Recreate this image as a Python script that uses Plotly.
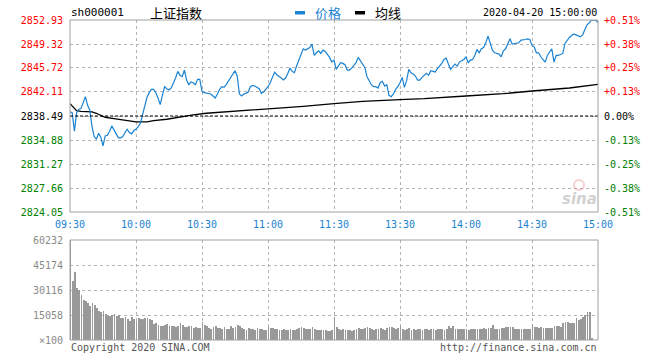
import plotly.graph_objects as go

# ---------------- data ----------------
prev_close = 2838.49
time_labels = ["09:30", "10:00", "10:30", "11:00", "11:30", "13:30", "14:00", "14:30", "15:00"]
time_ticks = [0, 30, 60, 90, 120, 150, 180, 210, 240]

price_ticks = [2852.93, 2849.32, 2845.72, 2842.11, 2838.49, 2834.88, 2831.27, 2827.66, 2824.05]
pct_labels = ["+0.51%", "+0.38%", "+0.25%", "+0.13%", "0.00%", "-0.13%", "-0.25%", "-0.38%", "-0.51%"]

vol_ticks = [0, 15058, 30116, 45174, 60232]
vol_tick_labels = ["×100", "15058", "30116", "45174", "60232"]

# one price per minute, 09:30 .. 11:30 / 13:00 .. 15:00 (241 points)
price = [
    2839.1, 2839.0, 2836.2, 2839.0, 2839.5, 2839.6, 2840.5, 2841.4, 2840.1, 2839.4,
    2836.9, 2835.4, 2835.0, 2835.9, 2835.3, 2834.0, 2835.5, 2835.6, 2836.2, 2837.0,
    2836.4, 2835.8, 2835.2, 2835.2, 2835.4, 2836.0, 2836.5, 2836.0, 2835.8, 2836.3,
    2836.5, 2836.9, 2837.4, 2838.7, 2839.9, 2841.3, 2842.0, 2842.5, 2842.5, 2842.0,
    2841.2, 2840.2, 2841.6, 2842.9, 2842.6, 2842.4, 2842.7, 2843.4, 2844.2, 2845.2,
    2844.6, 2844.4, 2845.4, 2843.9, 2843.2, 2843.6, 2843.5, 2843.2, 2844.0, 2844.0,
    2842.2, 2842.0, 2841.9, 2841.9, 2841.8, 2841.5, 2841.2, 2841.8, 2842.5, 2842.9,
    2842.8, 2843.2, 2843.7, 2844.2, 2844.8, 2845.3, 2844.5, 2841.8, 2841.5, 2841.8,
    2841.9, 2842.1, 2842.9, 2843.1, 2843.0, 2842.8, 2842.6, 2841.9, 2842.1, 2842.5,
    2842.9, 2843.5, 2844.3, 2845.1, 2844.7, 2844.5, 2844.2, 2843.9, 2844.2, 2844.9,
    2845.7, 2845.2, 2845.0, 2846.0, 2846.8, 2847.7, 2848.6, 2848.4, 2848.6, 2848.8,
    2849.3, 2847.6, 2848.0, 2848.3, 2847.9, 2848.4, 2848.2, 2847.8, 2847.3, 2846.6,
    2846.9, 2845.5, 2846.1, 2846.5, 2846.4, 2846.2, 2845.4, 2845.4, 2845.7, 2846.2,
    2846.5, 2847.3, 2846.8, 2846.3, 2845.8, 2844.4, 2843.7, 2843.2, 2842.9, 2842.9,
    2842.7, 2843.5, 2843.7, 2843.0, 2843.2, 2841.6, 2841.4, 2841.8, 2842.5, 2842.9,
    2843.5, 2844.3, 2842.8, 2843.8, 2845.5, 2845.0, 2844.8, 2844.5, 2843.9, 2843.9,
    2844.3, 2844.6, 2844.9, 2844.6, 2845.3, 2845.2, 2845.1, 2845.6, 2846.0, 2846.4,
    2847.0, 2847.2, 2846.3, 2845.5, 2845.9, 2846.3, 2846.0, 2846.6, 2846.8, 2847.0,
    2847.4, 2846.5, 2846.9, 2847.0, 2847.6, 2848.5, 2848.0, 2848.6, 2848.8, 2849.5,
    2850.5, 2849.6, 2848.4, 2848.0, 2847.9, 2847.8, 2847.4, 2848.3, 2848.6, 2849.4,
    2850.1, 2849.3, 2849.4, 2849.5, 2849.5, 2849.9, 2849.9, 2850.0, 2850.1, 2850.0,
    2849.1, 2848.9, 2848.0, 2848.0, 2847.4, 2847.0, 2846.6, 2847.6, 2848.1, 2848.6,
    2846.6, 2847.6, 2847.6, 2847.7, 2847.9, 2849.4, 2849.9, 2850.3, 2850.6, 2850.8,
    2850.7, 2850.5, 2850.4, 2850.7, 2851.5, 2852.2, 2852.5, 2852.9, 2852.93, 2852.9,
    2852.55,
]

# average price line (minute index, value)
avg_minutes = [0, 1, 2, 3, 5, 10, 12, 14, 16, 20, 24, 27, 30, 35, 38, 44, 50, 56, 62, 71,
               80, 90, 99, 106, 120, 133, 150, 161, 180, 197, 210, 227, 240]
avg_price = [2840.35, 2840.0, 2839.5, 2839.3, 2839.2, 2839.1, 2838.9, 2838.55, 2838.3, 2838.1,
             2837.9, 2837.65, 2837.6, 2837.6, 2837.8, 2838.0, 2838.35, 2838.65, 2838.9, 2839.1,
             2839.34, 2839.54, 2839.7, 2839.95, 2840.35, 2840.7, 2840.95, 2841.1, 2841.5,
             2841.85, 2842.25, 2842.7, 2843.25]

# volume per minute (x100 shares)
volume = [
    60232, 35250, 40680, 31220, 30210, 27190, 24170, 23770, 22150, 20540,
    22150, 21150, 19130, 17720, 17120, 17720, 15710, 14500, 14500, 15110,
    15710, 14500, 15110, 13090, 13090, 13700, 12490, 11680, 13700, 12490,
    11680, 13090, 12490, 12490, 13090, 13090, 12490, 12080, 9670, 10470,
    9060, 8660, 8660, 9260, 9670, 8660, 8460, 8460, 8060, 8460,
    10470, 9060, 7650, 8060, 8460, 8460, 7450, 7650, 7050, 7050,
    11080, 9060, 8460, 7050, 6650, 8060, 8460, 7500, 7200, 6800,
    7600, 6400, 6900, 8200, 7400, 7800, 9000, 8400, 7000, 6600,
    6200, 7000, 6800, 6400, 6000, 7200, 6600, 6900, 6300, 6100,
    7800, 7000, 7400, 6800, 6500, 6200, 6000, 6600, 6300, 5900,
    6700, 6200, 6000, 6500, 7100, 7600, 7300, 6800, 6400, 6600,
    7900, 6900, 6300, 6000, 6200, 5800, 6000, 5700, 5600, 5900,
    14000, 7800, 6600, 6200, 6400, 5800, 6000, 6300, 5700, 6100,
    6500, 7200, 6900, 6400, 7300, 7800, 7100, 6600, 6200, 6800,
    6400, 7000, 6600, 6300, 7400, 8000, 7600, 7000, 6700, 7200,
    8460, 6440, 6040, 6640, 7050, 6240, 6440, 6040, 6840, 6440,
    6240, 6640, 6440, 6040, 6640, 6440, 6240, 6640, 6440, 6640,
    6240, 6640, 8460, 7050, 8460, 6440, 6640, 6640, 6440, 6640,
    6640, 6240, 6640, 6640, 6840, 6640, 6840, 6640, 7050, 6840,
    7050, 7450, 9060, 6440, 6840, 6640, 7050, 7250, 7650, 8060,
    8060, 7650, 6640, 6440, 6640, 6640, 6440, 6640, 6840, 6640,
    9470, 8060, 7650, 7450, 8060, 7450, 7050, 7450, 7450, 7050,
    8460, 8460, 8460, 8060, 10470, 10670, 10670, 10470, 10070, 10070,
    13090, 12080, 12490, 13700, 15110, 16720, 16720, 1000, 0, 0,
    0,
]
minutes = list(range(len(price)))

# ---------------- styles ----------------
W, H = 660, 360
MONO = "DejaVu Sans Mono, Liberation Mono, monospace"
CJK = "Noto Sans CJK SC, sans-serif"
BLUE = "#1a82d2"
RED = "#ff0000"
GREEN = "#008000"
GRID = "#b4b4b4"
BORDER = "#a0a0a0"


def px(x):
    return x / W


def py(y):
    return 1 - y / H


X0, X1 = 70, 598
P_TOP, P_BOT = 20, 212
V_TOP, V_BOT = 240, 340


def colored(label, value):
    if abs(value - prev_close) < 1e-6:
        c = "#000000"
    elif value > prev_close:
        c = RED
    else:
        c = GREEN
    return f'<span style="color:{c}">{label}</span>'


left_text = [colored(f"{v:.2f}", v) for v in price_ticks]
right_text = [colored(t, v) for t, v in zip(pct_labels, price_ticks)]

fig = go.Figure()

fig.add_trace(go.Bar(
    x=minutes, y=volume, xaxis="x2", yaxis="y2",
    marker=dict(color="#999999", line=dict(width=0)),
    width=0.45, offset=0, showlegend=False, hoverinfo="skip",
))
fig.add_trace(go.Scatter(
    x=avg_minutes, y=avg_price, mode="lines",
    line=dict(color="#000000", width=1.3), showlegend=False, hoverinfo="skip",
))
fig.add_trace(go.Scatter(
    x=minutes, y=price, mode="lines",
    line=dict(color=BLUE, width=1.2), showlegend=False, hoverinfo="skip",
))
# invisible trace for right axis
fig.add_trace(go.Scatter(
    x=[0], y=[prev_close], yaxis="y3", mode="markers",
    marker=dict(opacity=0), showlegend=False, hoverinfo="skip",
))

xdom = [px(X0), px(X1)]
common_x = dict(range=[0, 240], domain=xdom, showline=False, zeroline=False, automargin=False,
                showgrid=True, gridcolor=GRID, griddash="dot", gridwidth=1,
                tickvals=time_ticks)

fig.update_layout(
    template="none",
    width=W, height=H,
    margin=dict(l=0, r=0, t=0, b=0, pad=0),
    paper_bgcolor="white", plot_bgcolor="white",
    bargap=0,
    hovermode=False,
    font=dict(family=MONO, size=10, color="#000"),
    xaxis=dict(**common_x, anchor="y", ticktext=time_labels,
               tickfont=dict(family=MONO, size=10, color=BLUE),
               ticks="outside", ticklen=3, tickcolor="rgba(0,0,0,0)"),
    yaxis=dict(domain=[py(P_BOT), py(P_TOP)], range=[price_ticks[-1], price_ticks[0]],
               tickvals=price_ticks, ticktext=left_text, automargin=False,
               tickfont=dict(family=MONO, size=10),
               ticks="outside", ticklen=4, tickcolor="rgba(0,0,0,0)",
               showgrid=True, gridcolor=GRID, griddash="dot", zeroline=False, showline=False),
    yaxis3=dict(overlaying="y", side="right", range=[price_ticks[-1], price_ticks[0]],
                tickvals=price_ticks, ticktext=right_text, automargin=False,
                tickfont=dict(family=MONO, size=10),
                ticks="outside", ticklen=3, tickcolor="rgba(0,0,0,0)",
                showgrid=False, zeroline=False, showline=False, anchor="x"),
    xaxis2=dict(**common_x, anchor="y2", showticklabels=False, ticks=""),
    yaxis2=dict(domain=[py(V_BOT), py(V_TOP)], range=[0, vol_ticks[-1]],
                tickvals=vol_ticks, ticktext=vol_tick_labels, automargin=False,
                tickfont=dict(family=MONO, size=10, color="#8a8a8a"),
                ticks="outside", ticklen=4, tickcolor="rgba(0,0,0,0)",
                showgrid=True, gridcolor=GRID, griddash="dot", zeroline=False, showline=False),
)

shapes = [
    # previous close dashed line
    dict(type="line", xref="x", yref="y", x0=0, x1=240, y0=prev_close, y1=prev_close,
         line=dict(color="#000000", width=1, dash="3px,2px")),
    # panel borders
    dict(type="rect", xref="paper", yref="paper", x0=px(X0), x1=px(X1), y0=py(P_BOT), y1=py(P_TOP),
         line=dict(color=BORDER, width=1)),
    dict(type="rect", xref="paper", yref="paper", x0=px(X0), x1=px(X1), y0=py(V_BOT), y1=py(V_TOP),
         line=dict(color=BORDER, width=1)),
    # legend swatches
    dict(type="rect", xref="paper", yref="paper", x0=px(295), x1=px(305), y0=py(14.5), y1=py(11),
         fillcolor=BLUE, line=dict(width=0)),
    dict(type="rect", xref="paper", yref="paper", x0=px(355), x1=px(365), y0=py(14.5), y1=py(11),
         fillcolor="#000000", line=dict(width=0)),
    # faint sina logo mark
    dict(type="circle", xref="paper", yref="paper", x0=px(574), x1=px(584), y0=py(190), y1=py(180),
         line=dict(color="rgba(230,120,120,0.35)", width=2)),
]
fig.update_layout(shapes=shapes)

ann = [
    dict(text="sh000001", x=px(70), y=py(13), xanchor="left", font=dict(family=MONO, size=11, color="#000")),
    dict(text="上证指数", x=px(149), y=py(13), xanchor="left", font=dict(family=CJK, size=13, color="#000")),
    dict(text="价格", x=px(314), y=py(13), xanchor="left", font=dict(family=CJK, size=13, color=BLUE)),
    dict(text="均线", x=px(374), y=py(13), xanchor="left", font=dict(family=CJK, size=13, color="#000")),
    dict(text="2020-04-20 15:00:00", x=px(598), y=py(13), xanchor="right",
         font=dict(family=MONO, size=10, color="#000")),
    dict(text="Copyright 2020 SINA.COM", x=px(70), y=py(347), xanchor="left",
         font=dict(family=MONO, size=10, color="#555")),
    dict(text="http://finance.sina.com.cn", x=px(598), y=py(347), xanchor="right",
         font=dict(family=MONO, size=10, color="#555")),
    dict(text="<b><i>sina</i></b>", x=px(579), y=py(199), xanchor="center",
         font=dict(family="DejaVu Sans, sans-serif", size=15, color="rgba(150,150,150,0.45)")),
]
for a in ann:
    a.update(xref="paper", yref="paper", yanchor="middle", showarrow=False, borderpad=0)
fig.update_layout(annotations=ann)

# remove the browser's default 8px body margin so the 660x360 figure fills the window
fig.write_html("out.html", config={"displayModeBar": False},
               post_script="document.body.style.margin='0';")
